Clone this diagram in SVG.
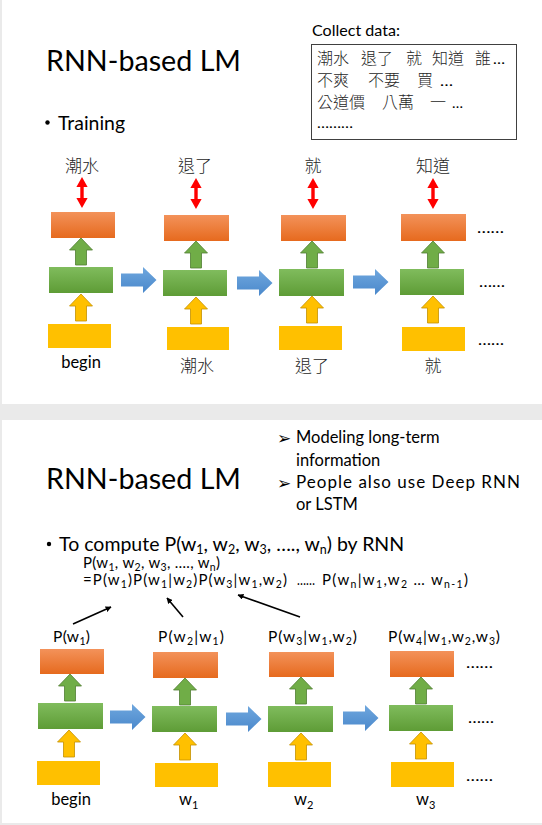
<svg xmlns="http://www.w3.org/2000/svg" width="542" height="825" viewBox="0 0 542 825">
<defs>
<style>
.lat{font-family:Lato,"Liberation Sans",sans-serif;fill:#000}
.cjk{font-family:"Noto Sans CJK TC","Noto Sans CJK SC",sans-serif;font-weight:300;fill:#262626}
.orange{fill:url(#gOr)}
.green{fill:url(#gGr)}
.yellow{fill:#FFC000}
.red{fill:#FF0000}
.ga{fill:#70AD47;stroke:#507E32;stroke-width:0.8}
.ya{fill:#FFC000;stroke:#C49000;stroke-width:0.8}
.ba{fill:url(#gBl)}
.blk{stroke:#000;stroke-width:1.6;fill:none;marker-end:url(#ah)}
.dots{font-family:Lato,"Liberation Sans",sans-serif;font-size:15px;fill:#000}
.tri{font-family:"DejaVu Sans",sans-serif;font-size:17px;fill:#000}
</style>
<linearGradient id="gOr" x1="0" y1="0" x2="0" y2="1"><stop offset="0" stop-color="#F3925A"/><stop offset="1" stop-color="#E66A1E"/></linearGradient>
<linearGradient id="gGr" x1="0" y1="0" x2="0" y2="1"><stop offset="0" stop-color="#80BC5D"/><stop offset="1" stop-color="#5E9C36"/></linearGradient>
<linearGradient id="gBl" x1="0" y1="0" x2="0" y2="1"><stop offset="0" stop-color="#6FA7DE"/><stop offset="1" stop-color="#4A88CB"/></linearGradient>
<path id="up" d="M0,0 L11.5,12 L5.5,12 L5.5,27 L-5.5,27 L-5.5,12 L-11.5,12 Z"/>
<path id="right" d="M0,-6.5 L22,-6.5 L22,-13 L35.5,0 L22,13 L22,6.5 L0,6.5 Z"/>
<path id="dbl" d="M0,0 L5.6,10 L1.7,10 L1.7,21 L5.6,21 L0,31 L-5.6,21 L-1.7,21 L-1.7,10 L-5.6,10 Z"/>
<marker id="ah" viewBox="0 0 10 10" refX="9" refY="5" markerWidth="6" markerHeight="6" orient="auto" markerUnits="userSpaceOnUse"><path d="M0,0 L10,5 L0,10 Z" fill="#000"/></marker>
</defs>

<!-- background -->
<rect x="0" y="0" width="542" height="825" fill="#EAEAEA"/>
<rect x="2" y="0" width="540" height="404" fill="#FFFFFF"/>
<rect x="2" y="420" width="540" height="403" fill="#FFFFFF"/>

<!-- ===== Top slide ===== -->
<g id="top-title">
<text class="lat" x="46" y="71" font-size="29" textLength="195" lengthAdjust="spacingAndGlyphs">RNN-based LM</text>
<circle cx="47.5" cy="122.5" r="2.2" fill="#000"/>
<text class="lat" x="58" y="130" font-size="19" textLength="67" lengthAdjust="spacingAndGlyphs">Training</text>
</g>

<g id="collect-data">
<text class="lat" x="312" y="36" font-size="15" textLength="88" lengthAdjust="spacingAndGlyphs">Collect data:</text>
<rect x="311.5" y="44.5" width="205" height="95" fill="#FFF" stroke="#404040" stroke-width="1"/>
<g class="cjk" font-size="16">
<text x="317" y="64">潮水</text><text x="361" y="64">退了</text><text x="406" y="64">就</text><text x="432" y="64">知道</text><text x="475" y="64">誰</text>
<text x="317" y="86">不爽</text><text x="368" y="86">不要</text><text x="417" y="86">買</text>
<text x="317" y="108">公道價</text><text x="382" y="108">八萬</text><text x="430" y="108">一</text>
</g>
<g class="lat" font-size="14">
<text x="493" y="64" textLength="12" lengthAdjust="spacingAndGlyphs">…</text>
<text x="440" y="86" textLength="13" lengthAdjust="spacingAndGlyphs">…</text>
<text x="452" y="108" textLength="11" lengthAdjust="spacingAndGlyphs">…</text>
<text x="317" y="128" textLength="36" lengthAdjust="spacingAndGlyphs">………</text>
</g>
</g>

<g id="t-col1">
<text class="cjk" x="82" y="172" font-size="17" text-anchor="middle">潮水</text>
<use href="#dbl" x="82" y="177" class="red"/>
<rect class="orange" x="51" y="212" width="64" height="26"/>
<use href="#up" x="81" y="238" class="ga"/>
<rect class="green" x="49" y="267" width="64" height="26"/>
<use href="#up" x="81" y="294" class="ya"/>
<rect class="yellow" x="48" y="324" width="63" height="24"/>
<text class="lat" x="81" y="368" font-size="16.5" text-anchor="middle">begin</text>
</g>

<g id="t-col2">
<text class="cjk" x="195" y="172" font-size="17" text-anchor="middle">退了</text>
<use href="#dbl" x="196" y="178" class="red"/>
<rect class="orange" x="164" y="215" width="65" height="26"/>
<use href="#up" x="196" y="241" class="ga"/>
<rect class="green" x="163" y="270" width="64" height="26"/>
<use href="#up" x="196" y="297" class="ya"/>
<rect class="yellow" x="167" y="327" width="62" height="23"/>
<text class="cjk" x="197" y="372" font-size="17" text-anchor="middle">潮水</text>
</g>

<g id="t-col3">
<text class="cjk" x="313" y="172" font-size="17" text-anchor="middle">就</text>
<use href="#dbl" x="313" y="178" class="red"/>
<rect class="orange" x="281" y="215" width="65" height="26"/>
<use href="#up" x="312" y="241" class="ga"/>
<rect class="green" x="279" y="269" width="65" height="27"/>
<use href="#up" x="312" y="296" class="ya"/>
<rect class="yellow" x="279" y="326" width="63" height="24"/>
<text class="cjk" x="312" y="372" font-size="17" text-anchor="middle">退了</text>
</g>

<g id="t-col4">
<text class="cjk" x="433" y="172" font-size="17" text-anchor="middle">知道</text>
<use href="#dbl" x="433" y="178" class="red"/>
<rect class="orange" x="401" y="214" width="65" height="27"/>
<use href="#up" x="433" y="241" class="ga"/>
<rect class="green" x="400" y="269" width="64" height="26"/>
<use href="#up" x="433" y="296" class="ya"/>
<rect class="yellow" x="402" y="327" width="63" height="24"/>
<text class="cjk" x="433" y="372" font-size="17" text-anchor="middle">就</text>
<text class="dots" x="477" y="233" textLength="27" lengthAdjust="spacingAndGlyphs">……</text>
<text class="dots" x="479" y="287" textLength="26" lengthAdjust="spacingAndGlyphs">……</text>
<text class="dots" x="478" y="345" textLength="26" lengthAdjust="spacingAndGlyphs">……</text>
</g>

<g id="t-connectors">
<use href="#right" x="121" y="280" class="ba"/>
<use href="#right" x="237" y="283" class="ba"/>
<use href="#right" x="353" y="282" class="ba"/>
</g>

<!-- ===== Bottom slide ===== -->
<g id="bottom-title">
<text class="lat" x="46" y="489" font-size="29" textLength="195" lengthAdjust="spacingAndGlyphs">RNN-based LM</text>
</g>

<g id="notes">
<text class="tri" x="277" y="444">➢</text>
<text class="lat" x="296" y="443" font-size="16.5">Modeling long-term</text>
<text class="lat" x="296" y="466" font-size="16.5">information</text>
<text class="tri" x="277" y="489">➢</text>
<text class="lat" x="296" y="488" font-size="17" textLength="224" lengthAdjust="spacing">People also use Deep RNN</text>
<text class="lat" x="296" y="510" font-size="16.5">or LSTM</text>
</g>

<g id="compute">
<circle cx="49" cy="544" r="2.2" fill="#000"/>
<text class="lat" x="59" y="551" font-size="19.5">To compute P(w<tspan font-size="12.5" dy="3">1</tspan><tspan dy="-3">, w</tspan><tspan font-size="12.5" dy="3">2</tspan><tspan dy="-3">, w</tspan><tspan font-size="12.5" dy="3">3</tspan><tspan dy="-3">, …., w</tspan><tspan font-size="12.5" dy="3">n</tspan><tspan dy="-3">) by RNN</tspan></text>
</g>

<g id="formula" class="lat" font-size="15">
<text x="83" y="568" textLength="137" lengthAdjust="spacing">P(w<tspan font-size="10.5" dy="3">1</tspan><tspan dy="-3">, w</tspan><tspan font-size="10.5" dy="3">2</tspan><tspan dy="-3">, w</tspan><tspan font-size="10.5" dy="3">3</tspan><tspan dy="-3">, …., w</tspan><tspan font-size="10.5" dy="3">n</tspan><tspan dy="-3">)</tspan></text>
<text x="83" y="585" textLength="204" lengthAdjust="spacing">=P(w<tspan font-size="10.5" dy="3">1</tspan><tspan dy="-3">)P(w</tspan><tspan font-size="10.5" dy="3">1</tspan><tspan dy="-3">|w</tspan><tspan font-size="10.5" dy="3">2</tspan><tspan dy="-3">)P(w</tspan><tspan font-size="10.5" dy="3">3</tspan><tspan dy="-3">|w</tspan><tspan font-size="10.5" dy="3">1</tspan><tspan dy="-3">,w</tspan><tspan font-size="10.5" dy="3">2</tspan><tspan dy="-3">)</tspan></text>
<text x="297" y="585" textLength="18" lengthAdjust="spacingAndGlyphs">……</text>
<text x="322" y="585" textLength="146" lengthAdjust="spacing">P(w<tspan font-size="10.5" dy="3">n</tspan><tspan dy="-3">|w</tspan><tspan font-size="10.5" dy="3">1</tspan><tspan dy="-3">,w</tspan><tspan font-size="10.5" dy="3">2</tspan><tspan dy="-3"> … w</tspan><tspan font-size="10.5" dy="3">n-1</tspan><tspan dy="-3">)</tspan></text>
</g>

<g id="b-col1">
<text class="lat" x="53" y="642" font-size="15.5" textLength="37" lengthAdjust="spacing">P(w<tspan font-size="10.5" dy="3">1</tspan><tspan dy="-3">)</tspan></text>
<rect class="orange" x="40" y="649" width="64" height="25"/>
<use href="#up" x="70" y="674" class="ga"/>
<rect class="green" x="38" y="703" width="65" height="26"/>
<use href="#up" x="69" y="730" class="ya"/>
<rect class="yellow" x="37" y="761" width="63" height="24"/>
<text class="lat" x="71" y="805" font-size="16.5" text-anchor="middle">begin</text>
</g>

<g id="b-col2">
<text class="lat" x="158" y="642" font-size="15.5" textLength="66" lengthAdjust="spacing">P(w<tspan font-size="10.5" dy="3">2</tspan><tspan dy="-3">|w</tspan><tspan font-size="10.5" dy="3">1</tspan><tspan dy="-3">)</tspan></text>
<rect class="orange" x="153" y="652" width="65" height="26"/>
<use href="#up" x="185" y="678" class="ga"/>
<rect class="green" x="152" y="706" width="65" height="26"/>
<use href="#up" x="185" y="733" class="ya"/>
<rect class="yellow" x="155" y="763" width="63" height="24"/>
<text class="lat" x="179" y="805" font-size="16.5">w<tspan font-size="11" dy="4">1</tspan></text>
</g>

<g id="b-col3">
<text class="lat" x="268" y="642" font-size="15.5" textLength="89" lengthAdjust="spacing">P(w<tspan font-size="10.5" dy="3">3</tspan><tspan dy="-3">|w</tspan><tspan font-size="10.5" dy="3">1</tspan><tspan dy="-3">,w</tspan><tspan font-size="10.5" dy="3">2</tspan><tspan dy="-3">)</tspan></text>
<rect class="orange" x="269" y="652" width="65" height="25"/>
<use href="#up" x="301" y="677" class="ga"/>
<rect class="green" x="268" y="706" width="65" height="26"/>
<use href="#up" x="301" y="733" class="ya"/>
<rect class="yellow" x="268" y="762" width="63" height="25"/>
<text class="lat" x="294" y="805" font-size="16.5">w<tspan font-size="11" dy="4">2</tspan></text>
</g>

<g id="b-col4">
<text class="lat" x="388" y="642" font-size="15.5" textLength="112" lengthAdjust="spacing">P(w<tspan font-size="10.5" dy="3">4</tspan><tspan dy="-3">|w</tspan><tspan font-size="10.5" dy="3">1</tspan><tspan dy="-3">,w</tspan><tspan font-size="10.5" dy="3">2</tspan><tspan dy="-3">,w</tspan><tspan font-size="10.5" dy="3">3</tspan><tspan dy="-3">)</tspan></text>
<rect class="orange" x="390" y="651" width="64" height="26"/>
<use href="#up" x="421" y="677" class="ga"/>
<rect class="green" x="389" y="705" width="64" height="26"/>
<use href="#up" x="421" y="732" class="ya"/>
<rect class="yellow" x="391" y="762" width="63" height="25"/>
<text class="lat" x="416" y="805" font-size="16.5">w<tspan font-size="11" dy="4">3</tspan></text>
<text class="dots" x="466" y="668" textLength="27" lengthAdjust="spacingAndGlyphs">……</text>
<text class="dots" x="468" y="723" textLength="26" lengthAdjust="spacingAndGlyphs">……</text>
<text class="dots" x="466" y="781" textLength="27" lengthAdjust="spacingAndGlyphs">……</text>
</g>

<g id="b-connectors">
<use href="#right" x="110" y="717" class="ba"/>
<use href="#right" x="226" y="719" class="ba"/>
<use href="#right" x="343" y="718" class="ba"/>
<line class="blk" x1="73" y1="624" x2="111" y2="607"/>
<line class="blk" x1="183" y1="617" x2="167" y2="598"/>
<line class="blk" x1="300" y1="617" x2="238" y2="595"/>
</g>
</svg>
